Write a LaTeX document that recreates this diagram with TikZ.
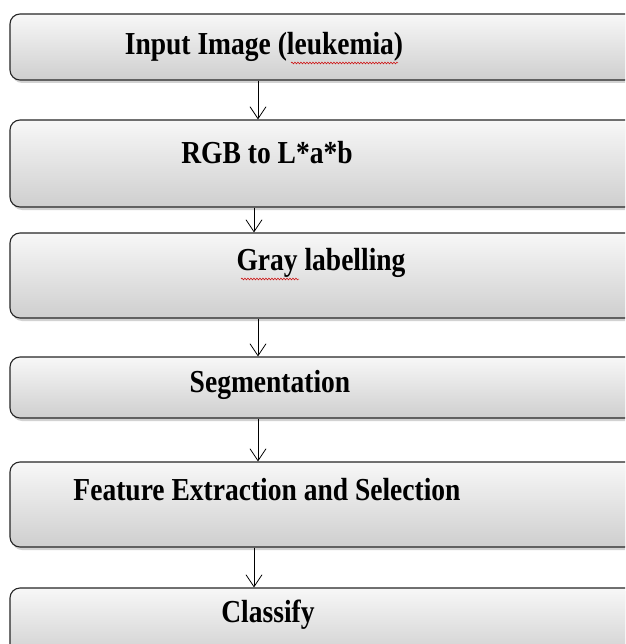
\documentclass[tikz,border=0pt]{standalone}
\usepackage{fontspec}
\setmainfont{Liberation Serif}
\usetikzlibrary{arrows.meta, shadows, decorations.pathmorphing}

\tikzset{
  box/.style={draw=black!85, line width=1.1pt, rounded corners=10pt,
    minimum width=630pt, top color=gray!6, bottom color=gray!38,
    drop shadow={shadow xshift=2pt, shadow yshift=-3pt, opacity=0.35}},
  lbl/.style={font=\fontsize{32}{34}\selectfont\bfseries, inner sep=0pt},
  flow/.style={line width=0.8pt, -{Straight Barb[length=12pt,width=16pt]}},
  squiggle/.style={red!80!black, line width=0.5pt,
    decorate, decoration={snake, amplitude=0.9pt, segment length=3pt}}
}
\newcommand\narrow[1]{\scalebox{0.86}[1]{#1}}

\begin{document}
\begin{tikzpicture}[x=1pt, y=-1pt]
\useasboundingbox (0,0) rectangle (625,644);
\clip (0,0) rectangle (625,644);
\fill[white] (0,0) rectangle (625,644);
% Boxes
\node[box, minimum height=66pt] (b1) at (325,47)    {};
\node[box, minimum height=87pt] (b2) at (325,163.5) {};
\node[box, minimum height=85pt] (b3) at (325,275.5) {};
\node[box, minimum height=61pt] (b4) at (325,387.5) {};
\node[box, minimum height=85pt] (b5) at (325,504.5) {};
\node[box, minimum height=72pt] (b6) at (325,624)   {};
% Labels
\node[lbl] (t1) at (264,47)  {\narrow{Input Image (leukemia)}};
\node[lbl] (t2) at (267,153) {\narrow{RGB to L*a*b}};
\node[lbl] (t3) at (321,263) {\narrow{Gray labelling}};
\node[lbl] (t4) at (270,385) {\narrow{Segmentation}};
\node[lbl] (t5) at (267,490) {\narrow{Feature Extraction and Selection}};
\node[lbl] (t6) at (268,615) {\narrow{Classify}};
% Spelling marks
\draw[squiggle] (291,63) -- (398,63);
\draw[squiggle] (241,279) -- (299,279);
% Arrow columns
\coordinate (c1) at (258,0);
\coordinate (c2) at (254,0);
% Arrows
\draw[flow] (b1.south -| c1) -- (b2.north -| c1);
\draw[flow] (b2.south -| c2) -- (b3.north -| c2);
\draw[flow] (b3.south -| c1) -- (b4.north -| c1);
\draw[flow] (b4.south -| c1) -- (b5.north -| c1);
\draw[flow] (b5.south -| c2) -- (b6.north -| c2);
\end{tikzpicture}
\end{document}
